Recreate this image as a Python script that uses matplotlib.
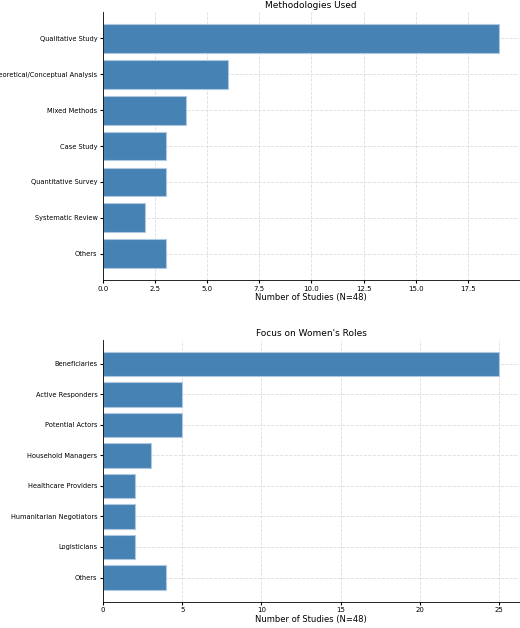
import matplotlib
matplotlib.use("Agg")
import matplotlib.pyplot as plt

meth_labels = ["Qualitative Study", "Theoretical/Conceptual Analysis", "Mixed Methods",
               "Case Study", "Quantitative Survey", "Systematic Review", "Others"]
meth_counts = [19, 6, 4, 3, 3, 2, 3]

role_labels = ["Beneficiaries", "Active Responders", "Potential Actors", "Household Managers",
               "Healthcare Providers", "Humanitarian Negotiators", "Logisticians", "Others"]
role_counts = [25, 5, 5, 3, 2, 2, 2, 4]

plt.rcParams['font.family'] = ['DejaVu Sans']
fig = plt.figure(figsize=(5.2, 6.28), dpi=100)
ax1 = fig.add_axes([0.198, 0.554, 0.8, 0.427])
ax2 = fig.add_axes([0.198, 0.042, 0.8, 0.417])

def draw(ax, labels, counts, title):
    ax.barh(labels, counts, color="#4682b4", edgecolor="#b0c8e0", linewidth=0.8, height=0.8)
    ax.invert_yaxis()
    ax.set_xlim(0, max(counts) * 1.05)
    ax.set_title(title, fontsize=6.5, pad=3)
    ax.set_xlabel("Number of Studies (N=48)", fontsize=6, labelpad=1)
    ax.tick_params(axis="y", labelsize=4.8, length=2, pad=2)
    ax.tick_params(axis="x", labelsize=5, length=2, pad=2)
    ax.grid(True, linestyle="--", color="#dddddd", linewidth=0.6)
    ax.set_axisbelow(True)
    for s in ["top", "right"]:
        ax.spines[s].set_visible(False)
    for s in ["left", "bottom"]:
        ax.spines[s].set_linewidth(0.6)

draw(ax1, meth_labels, meth_counts, "Methodologies Used")
draw(ax2, role_labels, role_counts, "Focus on Women's Roles")

fig.savefig("out.png", dpi=100)
